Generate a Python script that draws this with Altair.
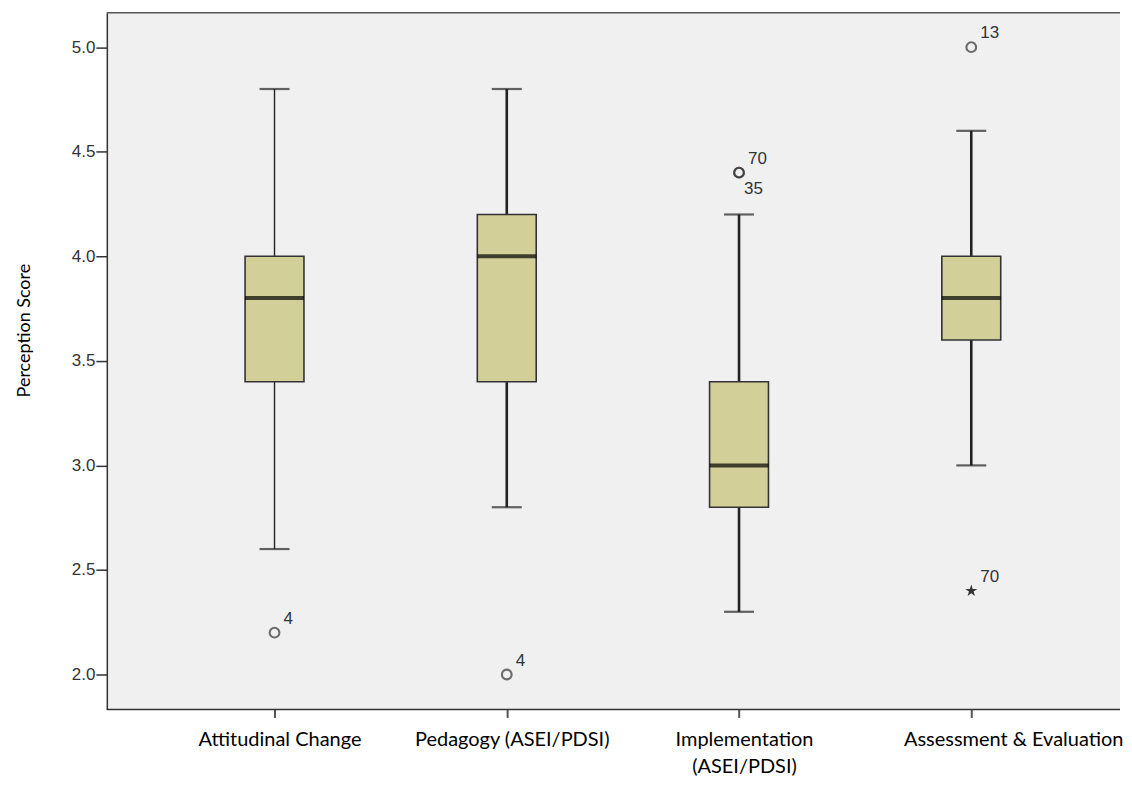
import altair as alt
import pandas as pd

# ---- data ----
categories = ["Attitudinal Change", "Pedagogy (ASEI/PDSI)",
              "Implementation (ASEI/PDSI)", "Assessment & Evaluation"]
whisker_low = [2.6, 2.8, 2.3, 3.0]
q1 = [3.4, 3.4, 2.8, 3.6]
median = [3.8, 4.0, 3.0, 3.8]
q3 = [4.0, 4.2, 3.4, 4.0]
whisker_high = [4.8, 4.8, 4.2, 4.6]

outlier_category = ["Attitudinal Change", "Pedagogy (ASEI/PDSI)",
                    "Implementation (ASEI/PDSI)", "Implementation (ASEI/PDSI)",
                    "Assessment & Evaluation", "Assessment & Evaluation"]
outlier_value = [2.2, 2.0, 4.4, 4.4, 5.0, 2.4]
outlier_case = ["4", "4", "70", "35", "13", "70"]
outlier_kind = ["outlier", "outlier", "outlier", "outlier", "outlier", "extreme"]

y_ticks = [2.0, 2.5, 3.0, 3.5, 4.0, 4.5, 5.0]

boxes = pd.DataFrame({"cat": categories, "lo": whisker_low, "q1": q1,
                      "med": median, "q3": q3, "hi": whisker_high})
outl = pd.DataFrame({"cat": outlier_category, "val": outlier_value,
                     "case": outlier_case, "kind": outlier_kind})

W, H = 1015, 698
STAR = "M0,-1L0.2245,-0.309L0.951,-0.309L0.363,0.118L0.588,0.809L0,0.382L-0.588,0.809L-0.363,0.118L-0.951,-0.309L-0.2245,-0.309Z"

x_enc = alt.X("cat:N", sort=categories,
              scale=alt.Scale(type="point", range=[168, 866], padding=0),
              axis=alt.Axis(title=None, domain=False, labelAngle=0,
                            labelFont="Lato", labelFontSize=20, labelColor="#000",
                            labelPadding=12, tickSize=8, tickWidth=2, tickColor="#555",
                            labelLimit=400, labelLineHeight=27,
                            labelExpr="datum.label == 'Implementation (ASEI/PDSI)' ? ['Implementation', '(ASEI/PDSI)'] : datum.label",
                            labelOffset={"condition": {"test": "datum.label == 'Assessment & Evaluation'", "value": 42}, "value": 5}))

y_scale = alt.Scale(domain=[1.833, 5.165], nice=False, zero=False)
y_axis = alt.Axis(title="Perception Score", values=y_ticks, format=".1f", grid=False,
                  tickSize=11, tickWidth=1.5, tickColor="#333",
                  domainColor="#333", domainWidth=1.5,
                  labelFont="Liberation Sans", labelFontSize=17, labelColor="#333",
                  labelPadding=1, titleFont="Lato", titleFontSize=18,
                  titleFontWeight="normal", titleColor="#000",
                  titlePadding=38, titleY=318)

base = alt.Chart(boxes)

whisk = base.mark_rule(color="#222").encode(
    x=x_enc,
    y=alt.Y("lo:Q", scale=y_scale, axis=y_axis),
    y2="hi:Q",
    strokeWidth=alt.condition(alt.datum.cat == "Attitudinal Change", alt.value(1.4), alt.value(2.6)),
)

caps = base.transform_fold(["lo", "hi"], as_=["end", "v"]).mark_tick(
    color="#222", size=30, thickness=2.2).encode(x=x_enc, y=alt.Y("v:Q", scale=y_scale))

box = base.mark_bar(size=59, fill="#d3cf98", stroke="#333", strokeWidth=1.6).encode(
    x=x_enc, y=alt.Y("q1:Q", scale=y_scale), y2="q3:Q")

med = base.mark_tick(color="#000", size=59, thickness=4).encode(
    x=x_enc, y=alt.Y("med:Q", scale=y_scale))

ob = alt.Chart(outl).transform_window(rank="row_number()", groupby=["cat", "val"])

circles = ob.transform_filter(alt.datum.kind == "outlier").mark_point(
    shape="circle", filled=False, size=95, strokeWidth=2.1, color="#333").encode(
    x=x_enc, y=alt.Y("val:Q", scale=y_scale))

stars = ob.transform_filter(alt.datum.kind == "extreme").mark_point(
    shape=STAR, filled=True, size=160, color="#333", opacity=1).encode(
    x=x_enc, y=alt.Y("val:Q", scale=y_scale))

lab_above = ob.transform_filter(alt.datum.rank == 1).mark_text(
    align="left", baseline="middle", dx=9, dy=-14, font="Liberation Sans",
    fontSize=17, color="#333").encode(
    x=x_enc, y=alt.Y("val:Q", scale=y_scale), text="case:N")

lab_below = ob.transform_filter(alt.datum.rank == 2).mark_text(
    align="left", baseline="middle", dx=5, dy=16, font="Liberation Sans",
    fontSize=17, color="#333").encode(
    x=x_enc, y=alt.Y("val:Q", scale=y_scale), text="case:N")

frame_top = alt.Chart(pd.DataFrame({"a": [0]})).mark_rule(color="#555", strokeWidth=1.5).encode(
    x=alt.value(0), x2=alt.value(W), y=alt.value(0))
frame_bot = alt.Chart(pd.DataFrame({"a": [0]})).mark_rule(color="#333", strokeWidth=1.5).encode(
    x=alt.value(0), x2=alt.value(W), y=alt.value(H))

chart = alt.layer(whisk, caps, box, med, circles, stars, lab_above, lab_below,
                  frame_top, frame_bot).properties(
    width=W, height=H,
    padding={"left": 7, "top": 3, "right": 0, "bottom": 0},
    background="#ffffff",
).configure_view(fill="#f0f0f0", stroke=None)

chart.save("out.html", embed_options={"renderer": "svg", "actions": False})
